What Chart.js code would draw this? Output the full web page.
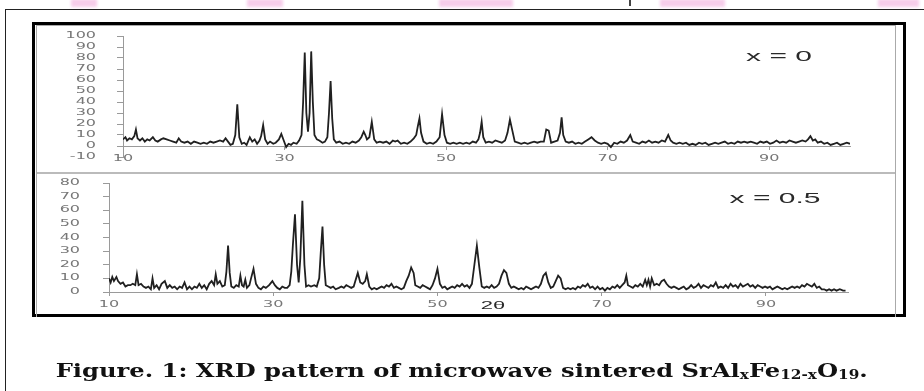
<!DOCTYPE html>
<html>
<head>
<meta charset="utf-8">
<script src="https://cdn.jsdelivr.net/npm/chart.js@4.4.0/dist/chart.umd.min.js"></script>
<style>
    html, body { margin: 0; padding: 0; background: #fff; width: 924px; height: 391px; overflow: hidden; position: relative; font-family: "Liberation Sans", Arial, sans-serif; }
    .abs { position: absolute; }
    .blob { position: absolute; top: -1px; height: 8px; background: #f6cdea; filter: blur(1.5px); }
    #page { left: 5px; top: 9px; width: 1000px; height: 500px; border: 1.5px solid #222; }
    #figure { left: 32px; top: 22px; width: 868px; height: 289px; border: 3px solid #000; }
    #frame { left: 36px; top: 25px; width: 858px; height: 291px; border: 1px solid #aaa; border-bottom: none; }
    #divider { left: 37px; top: 172px; width: 858px; height: 0; border-top: 2px solid #bbb; }
    .tag { position: absolute; transform: translate(-50%, -50%) scaleX(2); white-space: nowrap; color: #2a2a2a; }
    #caption { left: 0; top: 359px; width: 924px; text-align: center; white-space: nowrap; }
    #caption span.txt { display: inline-block; font-family: "DejaVu Serif", serif; font-weight: bold; font-size: 19px; color: #111; transform-origin: center; }
    #caption sub { font-size: 12px; vertical-align: -2px; }
</style>
</head>
<body>
<div class="blob" style="left:71px;width:26px"></div>
<div class="blob" style="left:247px;width:36px"></div>
<div class="blob" style="left:439px;width:74px"></div>
<div class="blob" style="left:660px;width:65px"></div>
<div class="blob" style="left:878px;width:41px"></div>
<div class="abs" style="left:629px;top:0;width:2px;height:6px;background:#444"></div>

<div id="page" class="abs"></div>
<div id="figure" class="abs"></div>
<div id="frame" class="abs"></div>
<div id="divider" class="abs"></div>

<canvas id="topChart" class="abs" style="left:38px;top:27px" width="856" height="145"></canvas>
<canvas id="bottomChart" class="abs" style="left:38px;top:174px" width="856" height="141"></canvas>

<div class="tag" style="left:779px;top:55px;font-size:15px">x = 0</div>
<div class="tag" style="left:775px;top:197px;font-size:15px">x = 0.5</div>
<div class="tag" style="left:493px;top:305px;font-size:11px">2θ</div>

<div id="caption" class="abs"><span class="txt" id="capText">Figure. 1: XRD pattern of microwave sintered SrAl<sub>x</sub>Fe<sub>12-x</sub>O<sub>19</sub>.</span></div>

<script>
// Оси
const xTicks = [10, 30, 50, 70, 90];
const yTicksTop = [-10, 0, 10, 20, 30, 40, 50, 60, 70, 80, 90, 100];
const yTicksBottom = [0, 10, 20, 30, 40, 50, 60, 70, 80];

// x = 0
const angleTop = [
    10.0, 10.3, 10.5, 10.8, 11.1, 11.4, 11.6, 11.8, 12.1, 12.4, 12.7, 13.0, 13.3, 13.7, 14.0, 14.3, 14.7, 15.0, 15.4, 15.8,
    16.2, 16.6, 16.9, 17.2, 17.6, 18.0, 18.4, 18.8, 19.2, 19.6, 20.0, 20.4, 20.8, 21.2, 21.6, 22.0, 22.4, 22.7, 23.0, 23.3,
    23.6, 23.9, 24.15, 24.4, 24.7, 25.0, 25.3, 25.7, 26.0, 26.3, 26.6, 26.9, 27.1, 27.35, 27.6, 27.9, 28.2, 28.6, 28.9, 29.3,
    29.6, 29.9, 30.2, 30.5, 30.8, 31.1, 31.5, 31.8, 32.1, 32.3, 32.5, 32.7, 32.9, 33.1, 33.3, 33.5, 33.7, 34.0, 34.3, 34.7,
    35.0, 35.3, 35.5, 35.7, 35.9, 36.1, 36.4, 36.8, 37.2, 37.6, 38.0, 38.4, 38.8, 39.2, 39.5, 39.8, 40.0, 40.2, 40.5, 40.8,
    41.1, 41.4, 41.8, 42.2, 42.6, 43.0, 43.4, 43.7, 44.0, 44.4, 44.8, 45.2, 45.6, 46.0, 46.3, 46.5, 46.7, 46.9, 47.2, 47.6,
    48.0, 48.4, 48.8, 49.2, 49.5, 49.8, 50.1, 50.5, 50.9, 51.3, 51.7, 52.1, 52.5, 52.9, 53.3, 53.7, 54.0, 54.2, 54.4, 54.6,
    54.9, 55.3, 55.7, 56.1, 56.5, 56.9, 57.3, 57.6, 57.9, 58.2, 58.5, 58.9, 59.3, 59.7, 60.1, 60.5, 60.9, 61.3, 61.7, 62.1,
    62.4, 62.7, 63.0, 63.4, 63.8, 64.1, 64.3, 64.5, 64.8, 65.2, 65.6, 66.0, 66.4, 66.8, 67.2, 67.6, 68.0, 68.4, 68.8, 69.2,
    69.6, 70.0, 70.4, 70.8, 71.2, 71.6, 72.0, 72.4, 72.8, 73.1, 73.5, 73.9, 74.3, 74.7, 75.1, 75.5, 75.9, 76.3, 76.7, 77.1,
    77.5, 77.8, 78.1, 78.5, 78.9, 79.3, 79.7, 80.1, 80.5, 80.9, 81.3, 81.7, 82.1, 82.5, 82.9, 83.3, 83.7, 84.1, 84.5, 84.9,
    85.3, 85.7, 86.1, 86.5, 86.9, 87.3, 87.7, 88.1, 88.5, 88.9, 89.3, 89.7, 90.1, 90.5, 90.9, 91.3, 91.7, 92.1, 92.5, 92.9,
    93.3, 93.7, 94.1, 94.5, 94.8, 95.1, 95.4, 95.7, 96.0, 96.4, 96.8, 97.2, 97.6, 98.0, 98.4, 98.8, 99.2, 99.6, 100.0
];
const countsTop = [
    6, 8, 5, 7, 6, 9, 15, 7, 5, 7, 4, 6, 5, 8, 5, 4, 6, 7, 6, 5,
    4, 3, 7, 4, 3, 4, 2, 4, 3, 2, 3, 2, 4, 3, 4, 5, 4, 7, 4, 1,
    2, 10, 38, 8, 2, 3, 1, 8, 4, 6, 2, 5, 9, 19, 6, 2, 4, 2, 3, 6,
    11, 5, -1, 2, 1, 3, 2, 5, 10, 40, 85, 30, 13, 30, 86, 40, 10, 6, 5, 3,
    4, 8, 30, 59, 25, 6, 3, 4, 2, 3, 2, 4, 3, 5, 8, 13, 10, 6, 8, 22,
    6, 3, 4, 3, 4, 2, 5, 4, 5, 2, 3, 2, 4, 7, 10, 18, 25, 12, 4, 2,
    3, 2, 4, 8, 29, 10, 3, 2, 3, 2, 3, 2, 3, 2, 4, 3, 6, 12, 22, 8,
    3, 4, 3, 5, 4, 3, 5, 12, 24, 14, 4, 3, 2, 3, 2, 3, 4, 3, 4, 4,
    15, 14, 3, 4, 5, 12, 26, 10, 4, 3, 4, 2, 3, 2, 4, 6, 8, 5, 3, 2,
    3, 2, -1, 3, 2, 4, 3, 5, 10, 4, 3, 2, 4, 3, 5, 3, 4, 3, 5, 4,
    10, 5, 3, 2, 3, 2, 3, 1, 2, 1, 3, 2, 3, 1, 2, 3, 2, 3, 4, 2,
    3, 2, 4, 3, 4, 3, 4, 3, 2, 4, 3, 4, 2, 3, 5, 3, 4, 3, 5, 4,
    3, 4, 5, 4, 6, 9, 5, 6, 3, 4, 2, 3, 1, 2, 3, 1, 2, 3, 2
];

// x = 0.5
const angleBottom = [
    10.0, 10.2, 10.4, 10.6, 10.9, 11.1, 11.4, 11.7, 12.0, 12.3, 12.6, 12.9, 13.2, 13.4, 13.6, 13.9, 14.2, 14.5, 14.8, 15.1,
    15.3, 15.5, 15.8, 16.1, 16.4, 16.8, 17.1, 17.4, 17.7, 18.0, 18.3, 18.6, 18.9, 19.2, 19.5, 19.8, 20.1, 20.4, 20.7, 21.0,
    21.3, 21.6, 21.9, 22.2, 22.5, 22.8, 23.0, 23.2, 23.5, 23.8, 24.1, 24.3, 24.5, 24.7, 24.9, 25.2, 25.5, 25.8, 26.0, 26.2,
    26.4, 26.6, 26.8, 27.1, 27.3, 27.6, 27.9, 28.2, 28.5, 28.8, 29.1, 29.5, 29.9, 30.2, 30.5, 30.8, 31.1, 31.4, 31.7, 32.0,
    32.2, 32.4, 32.65, 32.9, 33.1, 33.3, 33.55, 33.8, 34.0, 34.3, 34.6, 35.0, 35.3, 35.6, 35.8, 36.0, 36.2, 36.4, 36.7, 37.0,
    37.3, 37.6, 38.0, 38.3, 38.6, 38.9, 39.2, 39.5, 39.8, 40.0, 40.3, 40.6, 40.9, 41.2, 41.4, 41.7, 42.0, 42.3, 42.6, 42.9,
    43.2, 43.5, 43.8, 44.1, 44.4, 44.7, 45.0, 45.3, 45.6, 45.9, 46.2, 46.5, 46.8, 47.1, 47.3, 47.6, 47.9, 48.2, 48.5, 48.8,
    49.1, 49.4, 49.7, 50.0, 50.3, 50.6, 50.9, 51.2, 51.5, 51.8, 52.1, 52.4, 52.7, 53.0, 53.3, 53.6, 53.9, 54.2, 54.5, 54.8,
    55.1, 55.4, 55.7, 56.0, 56.3, 56.6, 56.9, 57.2, 57.5, 57.8, 58.1, 58.4, 58.7, 59.0, 59.3, 59.6, 59.9, 60.2, 60.5, 60.8,
    61.1, 61.4, 61.7, 62.0, 62.3, 62.6, 62.9, 63.2, 63.5, 63.8, 64.1, 64.4, 64.7, 65.0, 65.3, 65.6, 65.9, 66.2, 66.5, 66.8,
    67.1, 67.4, 67.7, 68.0, 68.3, 68.6, 68.9, 69.2, 69.5, 69.8, 70.1, 70.4, 70.7, 71.0, 71.3, 71.6, 71.9, 72.2, 72.5, 72.8,
    73.0, 73.2, 73.5, 73.8, 74.1, 74.4, 74.7, 75.0, 75.3, 75.5, 75.7, 75.9, 76.1, 76.4, 76.7, 77.0, 77.3, 77.6, 77.9, 78.2,
    78.5, 78.8, 79.1, 79.4, 79.7, 80.0, 80.3, 80.6, 80.9, 81.2, 81.5, 81.8, 82.1, 82.4, 82.7, 83.0, 83.3, 83.6, 83.9, 84.2,
    84.5, 84.8, 85.1, 85.4, 85.7, 86.0, 86.3, 86.6, 86.9, 87.2, 87.5, 87.8, 88.1, 88.4, 88.7, 89.0, 89.3, 89.6, 89.9, 90.2,
    90.5, 90.8, 91.1, 91.4, 91.7, 92.0, 92.3, 92.6, 92.9, 93.2, 93.5, 93.8, 94.1, 94.4, 94.7, 95.0, 95.3, 95.6, 95.9, 96.2,
    96.5, 96.8, 97.1, 97.4, 97.7, 98.0, 98.3, 98.6, 99.0, 99.4, 99.7
];
const countsBottom = [
    10, 7, 11, 8, 11, 8, 6, 7, 4, 5, 5, 6, 5, 13, 5, 6, 4, 3, 4, 2,
    10, 3, 5, 2, 6, 8, 3, 5, 3, 4, 2, 4, 3, 7, 2, 4, 2, 4, 3, 6,
    3, 5, 2, 6, 8, 5, 13, 6, 8, 4, 5, 15, 34, 14, 4, 3, 5, 4, 12, 5,
    4, 9, 3, 5, 10, 17, 6, 3, 2, 4, 3, 5, 8, 5, 3, 2, 4, 3, 3, 5,
    15, 35, 57, 20, 7, 25, 67, 20, 4, 5, 4, 5, 4, 10, 30, 48, 20, 5, 4, 3,
    4, 2, 3, 4, 3, 5, 4, 3, 4, 8, 14, 7, 6, 8, 13, 4, 2, 3, 2, 3,
    4, 3, 5, 4, 6, 3, 4, 3, 2, 3, 8, 12, 18, 14, 5, 4, 3, 5, 4, 3,
    2, 5, 10, 17, 6, 3, 4, 2, 3, 4, 3, 5, 4, 6, 4, 5, 3, 6, 20, 34,
    18, 4, 3, 4, 3, 5, 3, 4, 6, 12, 16, 14, 6, 3, 4, 3, 2, 3, 2, 4,
    3, 2, 3, 4, 3, 6, 12, 14, 7, 3, 4, 8, 12, 10, 3, 2, 3, 2, 3, 2,
    4, 3, 5, 4, 6, 3, 4, 2, 4, 2, 3, 1, 3, 2, 4, 3, 5, 3, 5, 7,
    12, 5, 4, 3, 5, 4, 6, 4, 9, 5, 9, 4, 10, 5, 6, 5, 8, 9, 6, 4,
    3, 4, 3, 2, 3, 4, 2, 3, 5, 3, 4, 6, 3, 5, 4, 3, 5, 4, 7, 3,
    4, 3, 5, 3, 6, 4, 5, 3, 6, 4, 5, 6, 4, 5, 3, 5, 4, 3, 4, 3,
    4, 2, 3, 4, 3, 2, 3, 2, 3, 4, 3, 4, 3, 5, 4, 6, 5, 4, 6, 3,
    4, 2, 2, 1, 2, 1, 2, 1, 2, 1, 1
];

// Подписи делений рисуем сами, растянутые по горизонтали как в оригинале
function stretchText(ctx, text, x, y, align, sx) {
    ctx.save();
    ctx.translate(x, y);
    ctx.scale(sx, 1);
    ctx.textAlign = align;
    ctx.textBaseline = 'middle';
    ctx.fillText(text, 0, 0);
    ctx.restore();
}

const tickLabels = {
    id: 'tickLabels',
    afterDraw(chart, args, opts) {
        const { ctx, chartArea, scales: { x, y } } = chart;
        ctx.save();
        ctx.font = '8px "DejaVu Sans"';
        ctx.fillStyle = '#777';
        y.ticks.forEach(t => {
            stretchText(ctx, String(t.value), chartArea.left - opts.yGap, y.getPixelForValue(t.value), 'right', 2);
        });
        const base = y.getPixelForValue(0);
        x.ticks.forEach(t => {
            stretchText(ctx, String(t.value), x.getPixelForValue(t.value), base + opts.xGap, 'center', 2);
        });
        ctx.restore();
    }
};

function makeChart(id, angles, counts, yMin, yMax, yTicks, axisWidth, padding, yGap) {
    return new Chart(document.getElementById(id), {
        type: 'scatter',
        data: {
            datasets: [{
                data: angles.map((a, i) => ({ x: a, y: counts[i] })),
                showLine: true,
                borderColor: '#202020',
                borderWidth: 1.8,
                pointRadius: 0,
                tension: 0
            }]
        },
        options: {
            responsive: false,
            animation: false,
            devicePixelRatio: 1,
            layout: { padding: padding },
            plugins: {
                legend: { display: false },
                tooltip: { enabled: false },
                tickLabels: { yGap: yGap, xGap: 13 }
            },
            scales: {
                x: {
                    type: 'linear',
                    position: { y: 0 },
                    min: 10,
                    max: 100,
                    afterBuildTicks: s => { s.ticks = xTicks.map(v => ({ value: v })); },
                    ticks: { display: false },
                    grid: { drawOnChartArea: false, tickLength: 3, color: '#9a9a9a' },
                    border: { color: '#9a9a9a', width: 1 }
                },
                y: {
                    type: 'linear',
                    min: yMin,
                    max: yMax,
                    afterBuildTicks: s => { s.ticks = yTicks.map(v => ({ value: v })); },
                    afterFit: s => { s.width = axisWidth; },
                    ticks: { display: false },
                    grid: { drawOnChartArea: false, tickLength: 6, color: '#9a9a9a' },
                    border: { color: '#9a9a9a', width: 1 }
                }
            }
        },
        plugins: [tickLabels]
    });
}

makeChart('topChart', angleTop, countsTop, -10, 100, yTicksTop, 85,
    { left: 0, right: 44, top: 9, bottom: 15 }, 27);
makeChart('bottomChart', angleBottom, countsBottom, 0, 80, yTicksBottom, 71,
    { left: 0, right: 46, top: 9, bottom: 23 }, 29);

// Подгоняем ширину подписи к рисунку
const cap = document.getElementById('capText');
const capWidth = cap.getBoundingClientRect().width;
cap.style.transform = 'scaleX(' + (812 / capWidth).toFixed(3) + ')';
</script>
</body>
</html>
